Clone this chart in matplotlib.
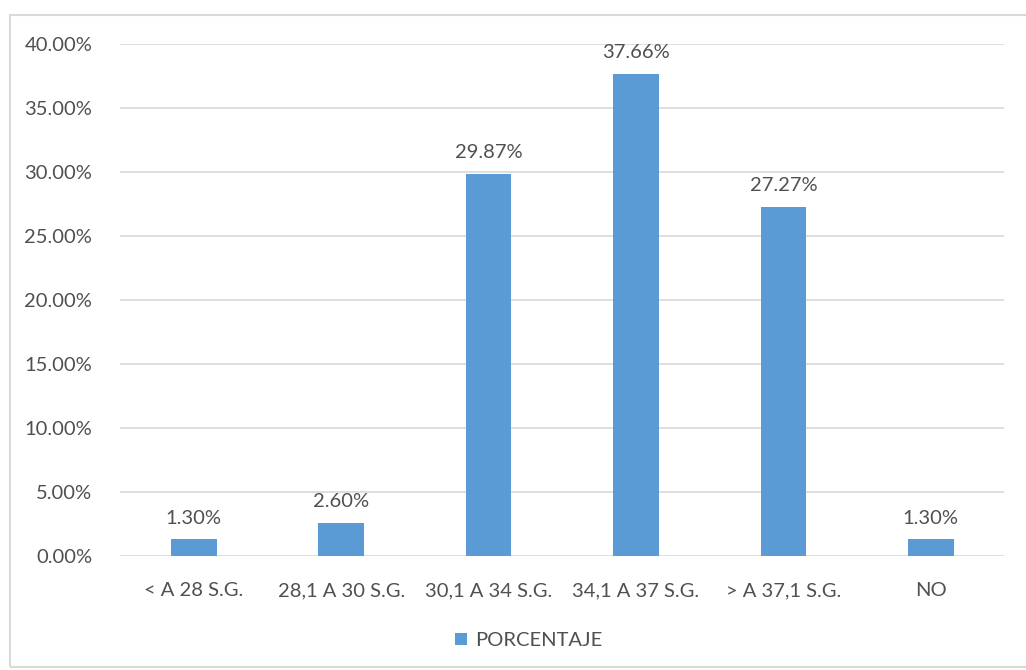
import matplotlib.pyplot as plt
from matplotlib.patches import Rectangle
from matplotlib.ticker import FuncFormatter

categories = ["< A 28 S.G.", "28,1 A 30 S.G.", "30,1 A 34 S.G.",
              "34,1 A 37 S.G.", "> A 37,1 S.G.", "NO"]
porcentaje = [1.30, 2.60, 29.87, 37.66, 27.27, 1.30]
series_name = "PORCENTAJE"

bar_color = "#5B9BD5"
text_color = "#505050"
grid_color = "#D9D9D9"
fs = 14.5

plt.rcParams["font.family"] = ["Lato", "DejaVu Sans"]

fig = plt.figure(figsize=(10.26, 6.70), dpi=100)
ax = fig.add_axes([0.117, 0.170, 0.862, 0.764])

x = range(len(categories))
bars = ax.bar(x, porcentaje, width=0.31, color=bar_color, zorder=3)

for xi, v in zip(x, porcentaje):
    ax.text(xi, v + 1.0, f"{v:.2f}%", ha="center", va="bottom",
            fontsize=fs, color=text_color)

ax.set_xlim(-0.5, len(categories) - 0.5)
ax.set_ylim(0, 40)
ax.set_yticks(range(0, 41, 5))
ax.yaxis.set_major_formatter(FuncFormatter(lambda v, _: f"{v:.2f}%"))
ax.set_xticks(list(x))
ax.set_xticklabels(categories)
ax.tick_params(axis="both", length=0, labelsize=fs, colors=text_color)
ax.tick_params(axis="x", pad=19)
ax.tick_params(axis="y", pad=20)
ax.grid(axis="y", color=grid_color, linewidth=1.2, zorder=0)
for s in ax.spines.values():
    s.set_visible(False)

leg = fig.legend([bars], [series_name], loc="center", bbox_to_anchor=(0.515, 0.044),
                 frameon=False, fontsize=fs, handlelength=0.6, handleheight=0.6,
                 handletextpad=0.4)
for t in leg.get_texts():
    t.set_color(text_color)

fig.patches.append(Rectangle((10 / 1026, 3 / 670), 1030 / 1026, 652 / 670,
                             transform=fig.transFigure, fill=False,
                             edgecolor="#D9D9D9", linewidth=1.5))

fig.savefig("out.png", dpi=100)
